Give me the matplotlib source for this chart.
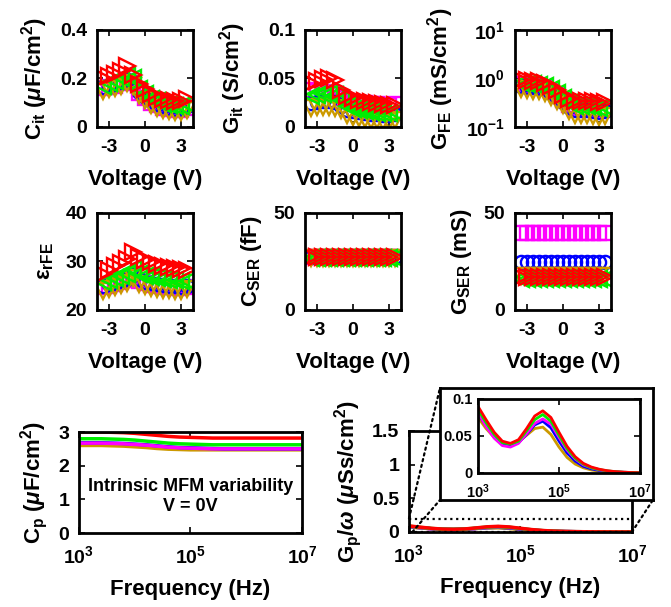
import numpy as np
import matplotlib
matplotlib.use('Agg')
import matplotlib.pyplot as plt
from matplotlib.patches import ConnectionPatch
from matplotlib.ticker import FixedLocator, FuncFormatter, NullLocator

plt.rcParams['font.family'] = ['Liberation Sans', 'DejaVu Sans']
plt.rcParams['font.weight'] = 'bold'
plt.rcParams['mathtext.fontset'] = 'custom'
plt.rcParams['mathtext.rm'] = 'Liberation Sans:bold'
plt.rcParams['mathtext.bf'] = 'Liberation Sans:bold'
plt.rcParams['mathtext.it'] = 'Liberation Sans:bold:italic'
plt.rcParams['mathtext.default'] = 'bf'

# ---------------- data ----------------
devices = ['D1', 'D2', 'D3', 'D4', 'D5']
colors = {'D1': '#FF00FF', 'D2': '#0000FF', 'D3': '#00EE00', 'D4': '#CC9900', 'D5': '#FF0000'}
markers = {'D1': 's', 'D2': 'o', 'D3': '<', 'D4': 'v', 'D5': '>'}

voltage = [-3.5, -3.0, -2.5, -2.0, -1.5, -1.0, -0.5, 0.0, 0.5, 1.0, 1.5, 2.0, 2.5, 3.0, 3.5]

cit = {
    'D1': [0.16, 0.165, 0.17, 0.18, 0.19, 0.18, 0.14, 0.12, 0.10, 0.09, 0.08, 0.075, 0.07, 0.07, 0.08],
    'D2': [0.165, 0.17, 0.175, 0.185, 0.195, 0.185, 0.145, 0.125, 0.105, 0.095, 0.085, 0.08, 0.075, 0.075, 0.085],
    'D3': [0.17, 0.18, 0.19, 0.20, 0.21, 0.20, 0.155, 0.135, 0.115, 0.105, 0.095, 0.09, 0.085, 0.085, 0.095],
    'D4': [0.15, 0.155, 0.16, 0.17, 0.18, 0.17, 0.13, 0.11, 0.09, 0.08, 0.07, 0.065, 0.06, 0.06, 0.07],
    'D5': [0.20, 0.21, 0.22, 0.23, 0.25, 0.215, 0.175, 0.155, 0.135, 0.125, 0.115, 0.11, 0.105, 0.105, 0.115],
}
git = {
    'D1': [0.038, 0.037, 0.036, 0.035, 0.034, 0.030, 0.027, 0.026, 0.025, 0.025, 0.024, 0.024, 0.023, 0.023, 0.024],
    'D2': [0.025, 0.026, 0.027, 0.027, 0.026, 0.022, 0.018, 0.016, 0.015, 0.014, 0.013, 0.013, 0.012, 0.012, 0.013],
    'D3': [0.032, 0.033, 0.034, 0.034, 0.033, 0.028, 0.022, 0.019, 0.017, 0.016, 0.015, 0.014, 0.014, 0.014, 0.015],
    'D4': [0.020, 0.021, 0.021, 0.021, 0.020, 0.017, 0.012, 0.010, 0.009, 0.008, 0.007, 0.007, 0.006, 0.006, 0.007],
    'D5': [0.045, 0.047, 0.049, 0.050, 0.048, 0.038, 0.032, 0.030, 0.028, 0.027, 0.026, 0.025, 0.024, 0.023, 0.023],
}
gfe = {
    'D1': [0.75, 0.72, 0.70, 0.68, 0.65, 0.55, 0.45, 0.36, 0.28, 0.24, 0.24, 0.24, 0.23, 0.22, 0.23],
    'D2': [0.70, 0.68, 0.66, 0.64, 0.60, 0.50, 0.42, 0.33, 0.26, 0.22, 0.22, 0.22, 0.21, 0.20, 0.21],
    'D3': [0.80, 0.78, 0.76, 0.74, 0.70, 0.60, 0.50, 0.40, 0.31, 0.27, 0.27, 0.27, 0.26, 0.25, 0.26],
    'D4': [0.60, 0.58, 0.56, 0.54, 0.50, 0.42, 0.35, 0.28, 0.21, 0.18, 0.18, 0.18, 0.17, 0.16, 0.17],
    'D5': [0.95, 0.92, 0.90, 0.88, 0.82, 0.70, 0.58, 0.46, 0.37, 0.34, 0.35, 0.35, 0.34, 0.33, 0.33],
}
eps = {
    'D1': [24.7, 25.0, 25.3, 25.7, 26.1, 27.0, 26.0, 25.5, 25.2, 25.0, 24.8, 24.7, 24.6, 24.5, 24.7],
    'D2': [25.0, 25.3, 25.6, 26.0, 26.4, 27.3, 26.3, 25.8, 25.5, 25.3, 25.1, 25.0, 24.9, 24.8, 25.0],
    'D3': [25.8, 26.2, 26.6, 27.0, 27.5, 28.5, 27.5, 27.0, 26.7, 26.5, 26.3, 26.2, 26.1, 26.0, 26.0],
    'D4': [24.0, 24.4, 24.8, 25.2, 25.6, 26.5, 25.4, 24.9, 24.6, 24.4, 24.2, 24.1, 24.0, 24.0, 24.3],
    'D5': [27.5, 28.3, 29.0, 29.7, 30.5, 32.0, 31.0, 30.3, 29.8, 29.4, 29.1, 28.8, 28.6, 28.5, 28.3],
}
cser = {
    'D1': [27.5, 27.5, 27.5, 27.5, 27.5, 27.5, 27.5, 27.5, 27.5, 27.5, 27.5, 27.5, 27.5, 27.5, 27.5],
    'D2': [27.3, 27.3, 27.3, 27.3, 27.3, 27.3, 27.3, 27.3, 27.3, 27.3, 27.3, 27.3, 27.3, 27.3, 27.3],
    'D3': [27.0, 27.0, 27.0, 27.0, 27.0, 27.0, 27.0, 27.0, 27.0, 27.0, 27.0, 27.0, 27.0, 27.0, 27.0],
    'D4': [27.0, 27.0, 27.0, 27.0, 27.0, 27.0, 27.0, 27.0, 27.0, 27.0, 27.0, 27.0, 27.0, 27.0, 27.0],
    'D5': [27.4, 27.4, 27.4, 27.4, 27.4, 27.4, 27.4, 27.4, 27.4, 27.4, 27.4, 27.4, 27.4, 27.4, 27.4],
}
gser = {
    'D1': [39.7, 39.7, 39.7, 39.7, 39.7, 39.7, 39.7, 39.7, 39.7, 39.7, 39.7, 39.7, 39.7, 39.7, 39.7],
    'D2': [24.7, 24.7, 24.7, 24.7, 24.7, 24.7, 24.7, 24.7, 24.7, 24.7, 24.7, 24.7, 24.7, 24.7, 24.7],
    'D3': [16.0, 16.0, 16.0, 16.0, 16.0, 16.0, 16.0, 16.0, 16.0, 16.0, 16.0, 16.0, 16.0, 16.0, 16.0],
    'D4': [17.5, 17.5, 17.5, 17.5, 17.5, 17.5, 17.5, 17.5, 17.5, 17.5, 17.5, 17.5, 17.5, 17.5, 17.5],
    'D5': [17.0, 17.0, 17.0, 17.0, 17.0, 17.0, 17.0, 17.0, 17.0, 17.0, 17.0, 17.0, 17.0, 17.0, 17.0],
}

freq = [1.0e3, 1.58e3, 2.51e3, 3.98e3, 6.31e3, 1.0e4, 1.58e4, 2.51e4, 3.98e4, 6.31e4, 1.0e5,
        1.58e5, 2.51e5, 3.98e5, 6.31e5, 1.0e6, 1.58e6, 2.51e6, 3.98e6, 6.31e6, 1.0e7]
cp = {
    'D1': [2.67, 2.67, 2.67, 2.66, 2.65, 2.63, 2.61, 2.58, 2.55, 2.53, 2.52, 2.51, 2.50, 2.50, 2.50, 2.50, 2.50, 2.50, 2.50, 2.50, 2.50],
    'D2': [2.68, 2.68, 2.68, 2.67, 2.66, 2.64, 2.62, 2.59, 2.56, 2.54, 2.53, 2.52, 2.51, 2.50, 2.50, 2.50, 2.50, 2.50, 2.50, 2.50, 2.50],
    'D3': [2.80, 2.80, 2.80, 2.79, 2.78, 2.76, 2.73, 2.70, 2.67, 2.65, 2.64, 2.63, 2.62, 2.62, 2.62, 2.62, 2.62, 2.62, 2.62, 2.62, 2.62],
    'D4': [2.60, 2.60, 2.60, 2.59, 2.58, 2.56, 2.54, 2.51, 2.49, 2.48, 2.47, 2.47, 2.47, 2.47, 2.47, 2.47, 2.47, 2.47, 2.47, 2.47, 2.47],
    'D5': [3.00, 3.00, 3.00, 2.99, 2.98, 2.96, 2.93, 2.90, 2.87, 2.85, 2.84, 2.83, 2.82, 2.82, 2.82, 2.82, 2.82, 2.82, 2.82, 2.82, 2.82],
}
gpw = {
    'D1': [0.082, 0.063, 0.047, 0.037, 0.035, 0.040, 0.053, 0.067, 0.073, 0.066, 0.048, 0.031, 0.019, 0.011, 0.0070, 0.0042, 0.0026, 0.0016, 0.0010, 0.0006, 0.0003],
    'D2': [0.080, 0.064, 0.049, 0.039, 0.037, 0.041, 0.052, 0.065, 0.070, 0.061, 0.043, 0.027, 0.016, 0.009, 0.0055, 0.0034, 0.0021, 0.0013, 0.0008, 0.0005, 0.0002],
    'D3': [0.086, 0.068, 0.052, 0.041, 0.039, 0.043, 0.057, 0.072, 0.079, 0.070, 0.051, 0.033, 0.020, 0.012, 0.0070, 0.0045, 0.0028, 0.0017, 0.0010, 0.0006, 0.0003],
    'D4': [0.075, 0.060, 0.048, 0.040, 0.038, 0.042, 0.051, 0.060, 0.062, 0.052, 0.035, 0.021, 0.012, 0.007, 0.0040, 0.0025, 0.0015, 0.0009, 0.0006, 0.0004, 0.0002],
    'D5': [0.090, 0.072, 0.055, 0.043, 0.040, 0.045, 0.060, 0.077, 0.084, 0.075, 0.055, 0.036, 0.022, 0.013, 0.0080, 0.0050, 0.0030, 0.0018, 0.0011, 0.0006, 0.0003],
}

order_v = ['D1', 'D2', 'D4', 'D3', 'D5']
order_f = ['D4', 'D2', 'D1', 'D3', 'D5']

TICK_FS = 14
LAB_FS = 16

fig = plt.figure(figsize=(6.71, 6.07), dpi=100)


def style(ax, fs=TICK_FS, pad=7, xpad=9):
    for s in ax.spines.values():
        s.set_linewidth(2.0)
    ax.tick_params(direction='in', top=True, right=True, length=4, width=1.2,
                   labelsize=fs, pad=pad)
    if xpad is not None:
        ax.tick_params(axis='x', pad=xpad)
    for lab in ax.get_xticklabels() + ax.get_yticklabels():
        lab.set_fontweight('bold')


def volt_panel(rect, data, ylabel, ylim, yticks, yticklabels, log=False):
    ax = fig.add_axes(rect)
    for d in order_v:
        ms = 9.5 if markers[d] in ('s', 'o') else 12
        ax.plot(voltage, data[d], linestyle='none', marker=markers[d], ms=ms,
                mfc='none', mec=colors[d], mew=1.7)
    if log:
        ax.set_yscale('log')
    ax.set_xlim(-4, 4)
    ax.set_ylim(*ylim)
    ax.set_xticks([-3, 0, 3])
    ax.set_xticklabels(['-3', '0', '3'])
    ax.set_yticks(yticks)
    ax.set_yticklabels(yticklabels)
    ax.yaxis.set_minor_locator(NullLocator())
    ax.set_xlabel('Voltage (V)', fontsize=LAB_FS, fontweight='bold', labelpad=9)
    ax.set_ylabel(ylabel, fontsize=LAB_FS, fontweight='bold', labelpad=7)
    style(ax)
    return ax


W = 0.143
H = 0.160
volt_panel([0.1446, 0.7908, W, H], cit, r'C$_{it}$ ($\mathit{\mu}$F/cm$^{2}$)', (0, 0.4),
           [0, 0.2, 0.4], ['0', '0.2', '0.4'])
volt_panel([0.4545, 0.7908, W, H], git, r'G$_{it}$ (S/cm$^{2}$)', (0, 0.1),
           [0, 0.05, 0.1], ['0', '0.05', '0.1'])
volt_panel([0.7675, 0.7908, W, H], gfe, r'G$_{FE}$ (mS/cm$^{2}$)', (0.1, 10),
           [0.1, 1, 10], [r'$10^{-1}$', r'$10^{0}$', r'$10^{1}$'], log=True)
volt_panel([0.1446, 0.4893, W, H], eps, r'$\epsilon_{rFE}$', (20, 40),
           [20, 30, 40], ['20', '30', '40'])
volt_panel([0.4545, 0.4893, W, H], cser, r'C$_{SER}$ (fF)', (0, 50),
           [0, 50], ['0', '50'])
volt_panel([0.7675, 0.4893, W, H], gser, r'G$_{SER}$ (mS)', (0, 50),
           [0, 50], ['0', '50'])


def logfmt(x, pos):
    return r'$10^{%d}$' % int(round(np.log10(x)))


def freq_axis(ax):
    ax.set_xscale('log')
    ax.set_xlim(1e3, 1e7)
    ax.xaxis.set_major_locator(FixedLocator([1e3, 1e5, 1e7]))
    ax.xaxis.set_minor_locator(NullLocator())
    ax.xaxis.set_major_formatter(FuncFormatter(logfmt))


# Cp panel
axc = fig.add_axes([0.1177, 0.1219, 0.3323, 0.1664])
for d in order_f:
    axc.plot(freq, cp[d], color=colors[d], lw=2.5)
freq_axis(axc)
axc.set_ylim(0, 3)
axc.set_yticks([0, 1, 2, 3])
axc.set_yticklabels(['0', '1', '2', '3'])
axc.set_xlabel('Frequency (Hz)', fontsize=LAB_FS, fontweight='bold', labelpad=8)
axc.set_ylabel(r'C$_{p}$ ($\mathit{\mu}$F/cm$^{2}$)', fontsize=LAB_FS, fontweight='bold', labelpad=6)
axc.text(0.5, 0.36, 'Intrinsic MFM variability\nV = 0V', transform=axc.transAxes,
         ha='center', va='center', fontsize=13, fontweight='bold', linespacing=1.25)
style(axc)

# Gp/w panel
axg = fig.add_axes([0.6095, 0.1236, 0.3323, 0.1664])
for d in order_f:
    axg.plot(freq, gpw[d], color=colors[d], lw=2.5)
freq_axis(axg)
axg.set_ylim(0, 1.5)
axg.set_yticks([0, 0.5, 1, 1.5])
axg.set_yticklabels(['0', '0.5', '1', '1.5'])
axg.set_xlabel('Frequency (Hz)', fontsize=LAB_FS, fontweight='bold', labelpad=8)
axg.set_ylabel(r'G$_{p}$/$\mathit{\omega}$ ($\mathit{\mu}$Ss/cm$^{2}$)', fontsize=LAB_FS,
               fontweight='bold', labelpad=6)
style(axg)
axg.plot([1e3, 1e7], [0.2, 0.2], color='k', ls=':', lw=1.6)
axg.plot([1e3, 1e7], [0.0, 0.0], color='k', ls=':', lw=1.6, zorder=5)

# inset frame and inset axes
boxax = fig.add_axes([0.6557, 0.1763, 0.3174, 0.1845], zorder=5)
boxax.set_xticks([])
boxax.set_yticks([])
boxax.set_facecolor('white')
for s in boxax.spines.values():
    s.set_linewidth(2.0)

axi = fig.add_axes([0.7124, 0.2208, 0.2414, 0.1219], zorder=6)
for d in order_f:
    axi.plot(freq, gpw[d], color=colors[d], lw=2.0)
freq_axis(axi)
axi.set_ylim(0, 0.1)
axi.set_yticks([0, 0.05, 0.1])
axi.set_yticklabels(['0', '0.05', '0.1'])
style(axi, fs=10.5, pad=4, xpad=7)

for xyA, xyB in [((1e3, 0.2), (0, 1)), ((1.15e3, 0.0), (0, 0)), ((1e7, 0.0), (1, 0))]:
    con = ConnectionPatch(xyA=xyA, coordsA=axg.transData, xyB=xyB, coordsB=boxax.transAxes,
                          color='k', ls=':', lw=1.6, zorder=4)
    fig.add_artist(con)

fig.savefig('out.png', dpi=100)
